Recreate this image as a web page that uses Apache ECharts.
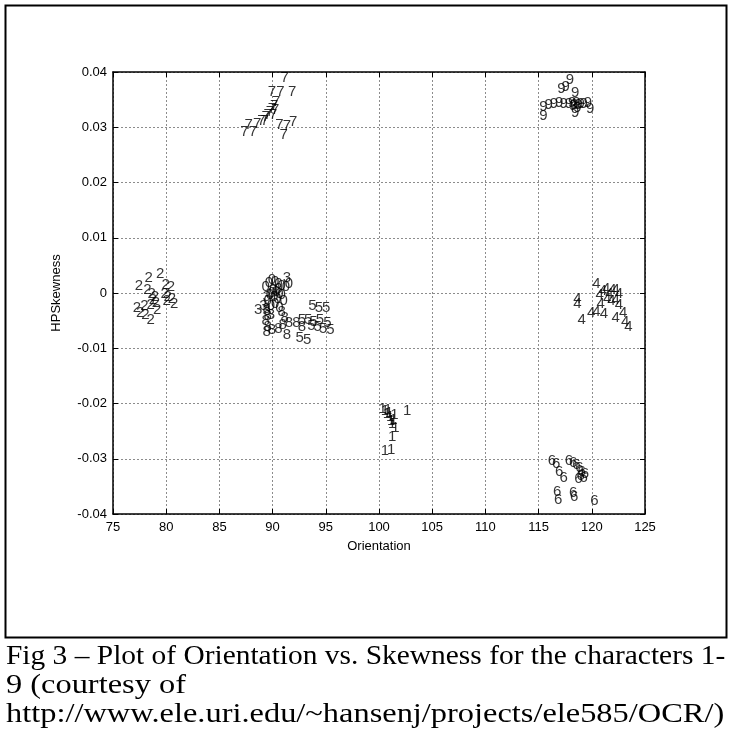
<!DOCTYPE html>
<html>
<head>
<meta charset="utf-8">
<script src="https://cdn.jsdelivr.net/npm/echarts@6/dist/echarts.min.js"></script>
<style>
  html, body { margin: 0; padding: 0; background: #fff; }
  #chart { width: 732px; height: 736px; }
</style>
</head>
<body>
<div id="chart"></div>
<script>
// tick values for both axes
var xTicks = [75, 80, 85, 90, 95, 100, 105, 110, 115, 120, 125];
var yTicks = [-0.04, -0.03, -0.02, -0.01, 0, 0.01, 0.02, 0.03, 0.04];

// [orientation, skewness] for each sample, grouped by the character drawn
var char0 = [[89.0, 0.0010], [89.3, 0.0018], [89.6, 0.0022], [89.9, 0.0020], [90.2, 0.0016],
    [90.5, 0.0012], [90.9, 0.0010], [91.2, 0.0016], [89.7, 0.0005], [90.0, 0.0002],
    [90.3, -0.0002], [89.4, -0.0004], [89.8, -0.0008], [90.1, -0.0012], [90.5, -0.0005],
    [89.2, -0.0015], [89.9, -0.0020], [90.7, -0.0015], [89.6, 0.0000], [90.2, 0.0006],
    [89.5, -0.0025], [90.3, -0.0028]];
var char1 = [[100.0, -0.0210], [100.2, -0.0215], [100.4, -0.0220], [100.5, -0.0212], [100.7, -0.0225],
    [100.8, -0.0232], [100.9, -0.0238], [101.0, -0.0230], [101.1, -0.0222], [100.6, -0.0218],
    [102.3, -0.0215], [100.9, -0.0262], [100.2, -0.0287], [100.8, -0.0285], [101.2, -0.0245]];
var char2 = [[78.0, 0.0026], [79.1, 0.0033], [77.1, 0.0012], [77.9, 0.0005], [79.6, 0.0014],
    [80.1, 0.0011], [78.3, -0.0002], [78.6, -0.0008], [78.4, -0.0013], [78.7, -0.0018],
    [78.2, -0.0022], [79.5, -0.0002], [79.8, -0.0008], [80.2, -0.0012], [80.4, -0.0020],
    [79.7, -0.0016], [76.9, -0.0027], [77.2, -0.0036], [77.6, -0.0024], [78.2, -0.0049],
    [78.8, -0.0032], [77.7, -0.0040]];
var char3 = [[91.0, 0.0027], [88.3, -0.0031], [88.8, -0.0025], [89.1, -0.0034], [89.1, -0.0007],
    [89.5, -0.0040]];
var char4 = [[120.1, 0.0015], [118.3, -0.0012], [118.3, -0.0021], [118.7, -0.0049], [120.4, -0.0005],
    [120.7, 0.0003], [121.0, 0.0006], [121.3, -0.0002], [121.6, 0.0005], [121.9, 0.0004],
    [122.2, -0.0003], [121.1, -0.0012], [121.5, -0.0016], [121.9, -0.0014], [120.5, -0.0020],
    [122.2, -0.0022], [119.6, -0.0036], [120.1, -0.0035], [120.8, -0.0038], [121.9, -0.0045],
    [122.6, -0.0036], [122.8, -0.0054], [123.1, -0.0063]];
var char5 = [[93.4, -0.0025], [94.0, -0.0028], [94.7, -0.0028], [92.4, -0.0049], [93.0, -0.0050],
    [93.5, -0.0053], [94.1, -0.0050], [94.8, -0.0055], [93.3, -0.0060], [93.9, -0.0062],
    [95.1, -0.0067], [92.2, -0.0082], [92.9, -0.0086], [94.4, -0.0066]];
var char6 = [[115.9, -0.0305], [116.3, -0.0310], [117.5, -0.0305], [117.9, -0.0308], [118.2, -0.0312],
    [118.5, -0.0318], [118.7, -0.0325], [118.6, -0.0332], [118.9, -0.0335], [119.0, -0.0328],
    [118.4, -0.0338], [117.0, -0.0335], [116.6, -0.0325], [116.4, -0.0360], [117.9, -0.0362],
    [118.0, -0.0370], [116.5, -0.0376], [119.9, -0.0377]];
var char7 = [[90.8, 0.0389], [89.6, 0.0363], [90.4, 0.0363], [91.5, 0.0363], [90.0, 0.0345],
    [89.8, 0.0338], [89.6, 0.0332], [89.4, 0.0327], [89.9, 0.0330], [89.2, 0.0322],
    [89.0, 0.0318], [89.7, 0.0322], [88.6, 0.0310], [88.2, 0.0306], [87.4, 0.0303],
    [87.0, 0.0290], [87.8, 0.0290], [88.9, 0.0310], [90.3, 0.0303], [91.0, 0.0302],
    [91.6, 0.0309], [90.7, 0.0285]];
var char8 = [[89.1, -0.0030], [89.2, -0.0042], [89.0, -0.0052], [89.2, -0.0062], [89.1, -0.0072],
    [89.6, -0.0068], [90.5, -0.0035], [90.8, -0.0045], [91.2, -0.0055], [90.6, -0.0058],
    [91.0, -0.0076], [91.9, -0.0055], [92.4, -0.0062], [90.2, -0.0065]];
var char9 = [[117.6, 0.0384], [117.2, 0.0372], [116.8, 0.0368], [118.1, 0.0361], [115.1, 0.0336],
    [115.6, 0.0340], [116.1, 0.0342], [116.6, 0.0343], [117.0, 0.0342], [117.5, 0.0341],
    [117.8, 0.0343], [118.0, 0.0340], [118.2, 0.0344], [118.4, 0.0339], [118.6, 0.0342],
    [118.9, 0.0341], [119.3, 0.0344], [119.5, 0.0333], [115.1, 0.0320], [118.1, 0.0325],
    [117.9, 0.0338], [118.3, 0.0335]];

var groups = [
    { name: "1", data: char1 }, { name: "2", data: char2 }, { name: "3", data: char3 },
    { name: "4", data: char4 }, { name: "5", data: char5 }, { name: "6", data: char6 },
    { name: "7", data: char7 }, { name: "8", data: char8 }, { name: "9", data: char9 },
    { name: "0", data: char0 }
];

var captionLines = [
    "Fig 3 \u2013 Plot of Orientation vs. Skewness for the characters 1-",
    "9 (courtesy of",
    "http://www.ele.uri.edu/~hansenj/projects/ele585/OCR/)"
];
// the caption was set in a wider serif than we have, so stretch each line
var captionStretch = [1.09, 1.2, 1.2];

function yFormatter(value) {
    if (Math.abs(value) < 1e-9) return "0";
    return value.toFixed(2);
}

var axisFont = { color: "#000", fontFamily: "Liberation Sans", fontSize: 13 };

function makeAxis(type, pos, showLabels) {
    var isX = type === "x";
    return {
        type: "value",
        position: pos,
        min: isX ? xTicks[0] : yTicks[0],
        max: isX ? xTicks[xTicks.length - 1] : yTicks[yTicks.length - 1],
        interval: isX ? 5 : 0.01,
        axisLine: { show: true, onZero: false, lineStyle: { color: "#000", width: 1.5 } },
        axisTick: { show: true, inside: true, length: 5, lineStyle: { color: "#000", width: 1 } },
        axisLabel: Object.assign({ show: showLabels, margin: isX ? 7 : 6,
            formatter: isX ? "{value}" : yFormatter }, axisFont),
        splitLine: { show: showLabels, lineStyle: { color: "#8c8c8c", type: [2, 2], width: 1 } }
    };
}

var xMain = makeAxis("x", "bottom", true);
xMain.name = "Orientation";
xMain.nameLocation = "middle";
xMain.nameGap = 26;
xMain.nameTextStyle = axisFont;
var yMain = makeAxis("y", "left", true);
yMain.name = "HPSkewness";
yMain.nameLocation = "middle";
yMain.nameGap = 50;
yMain.nameTextStyle = axisFont;

var series = groups.map(function (g) {
    return {
        type: "scatter",
        name: g.name,
        data: g.data,
        symbolSize: 1,
        itemStyle: { color: "transparent" },
        silent: true,
        label: {
            show: true,
            formatter: g.name,
            position: [0, 0],
            align: "left",
            verticalAlign: "middle",
            color: "#000",
            fontFamily: "Liberation Sans",
            fontSize: 15
        }
    };
});

var graphics = [
    { type: "rect", shape: { x: 5.5, y: 5.5, width: 721, height: 632 },
      style: { fill: null, stroke: "#000", lineWidth: 2 } }
];
captionLines.forEach(function (t, i) {
    graphics.push({
        type: "text", x: 6, y: 643 + i * 29, scaleX: captionStretch[i], originX: 0, originY: 0,
        style: { text: t, fill: "#000", font: "27px 'Liberation Serif'", verticalAlign: "top" }
    });
});

var chart = echarts.init(document.getElementById("chart"), null, { renderer: "canvas" });
chart.setOption({
    animation: false,
    backgroundColor: "#fff",
    grid: { left: 113, top: 72, width: 532, height: 442, containLabel: false },
    xAxis: [xMain, makeAxis("x", "top", false)],
    yAxis: [yMain, makeAxis("y", "right", false)],
    graphic: graphics,
    series: series
});
</script>
</body>
</html>
